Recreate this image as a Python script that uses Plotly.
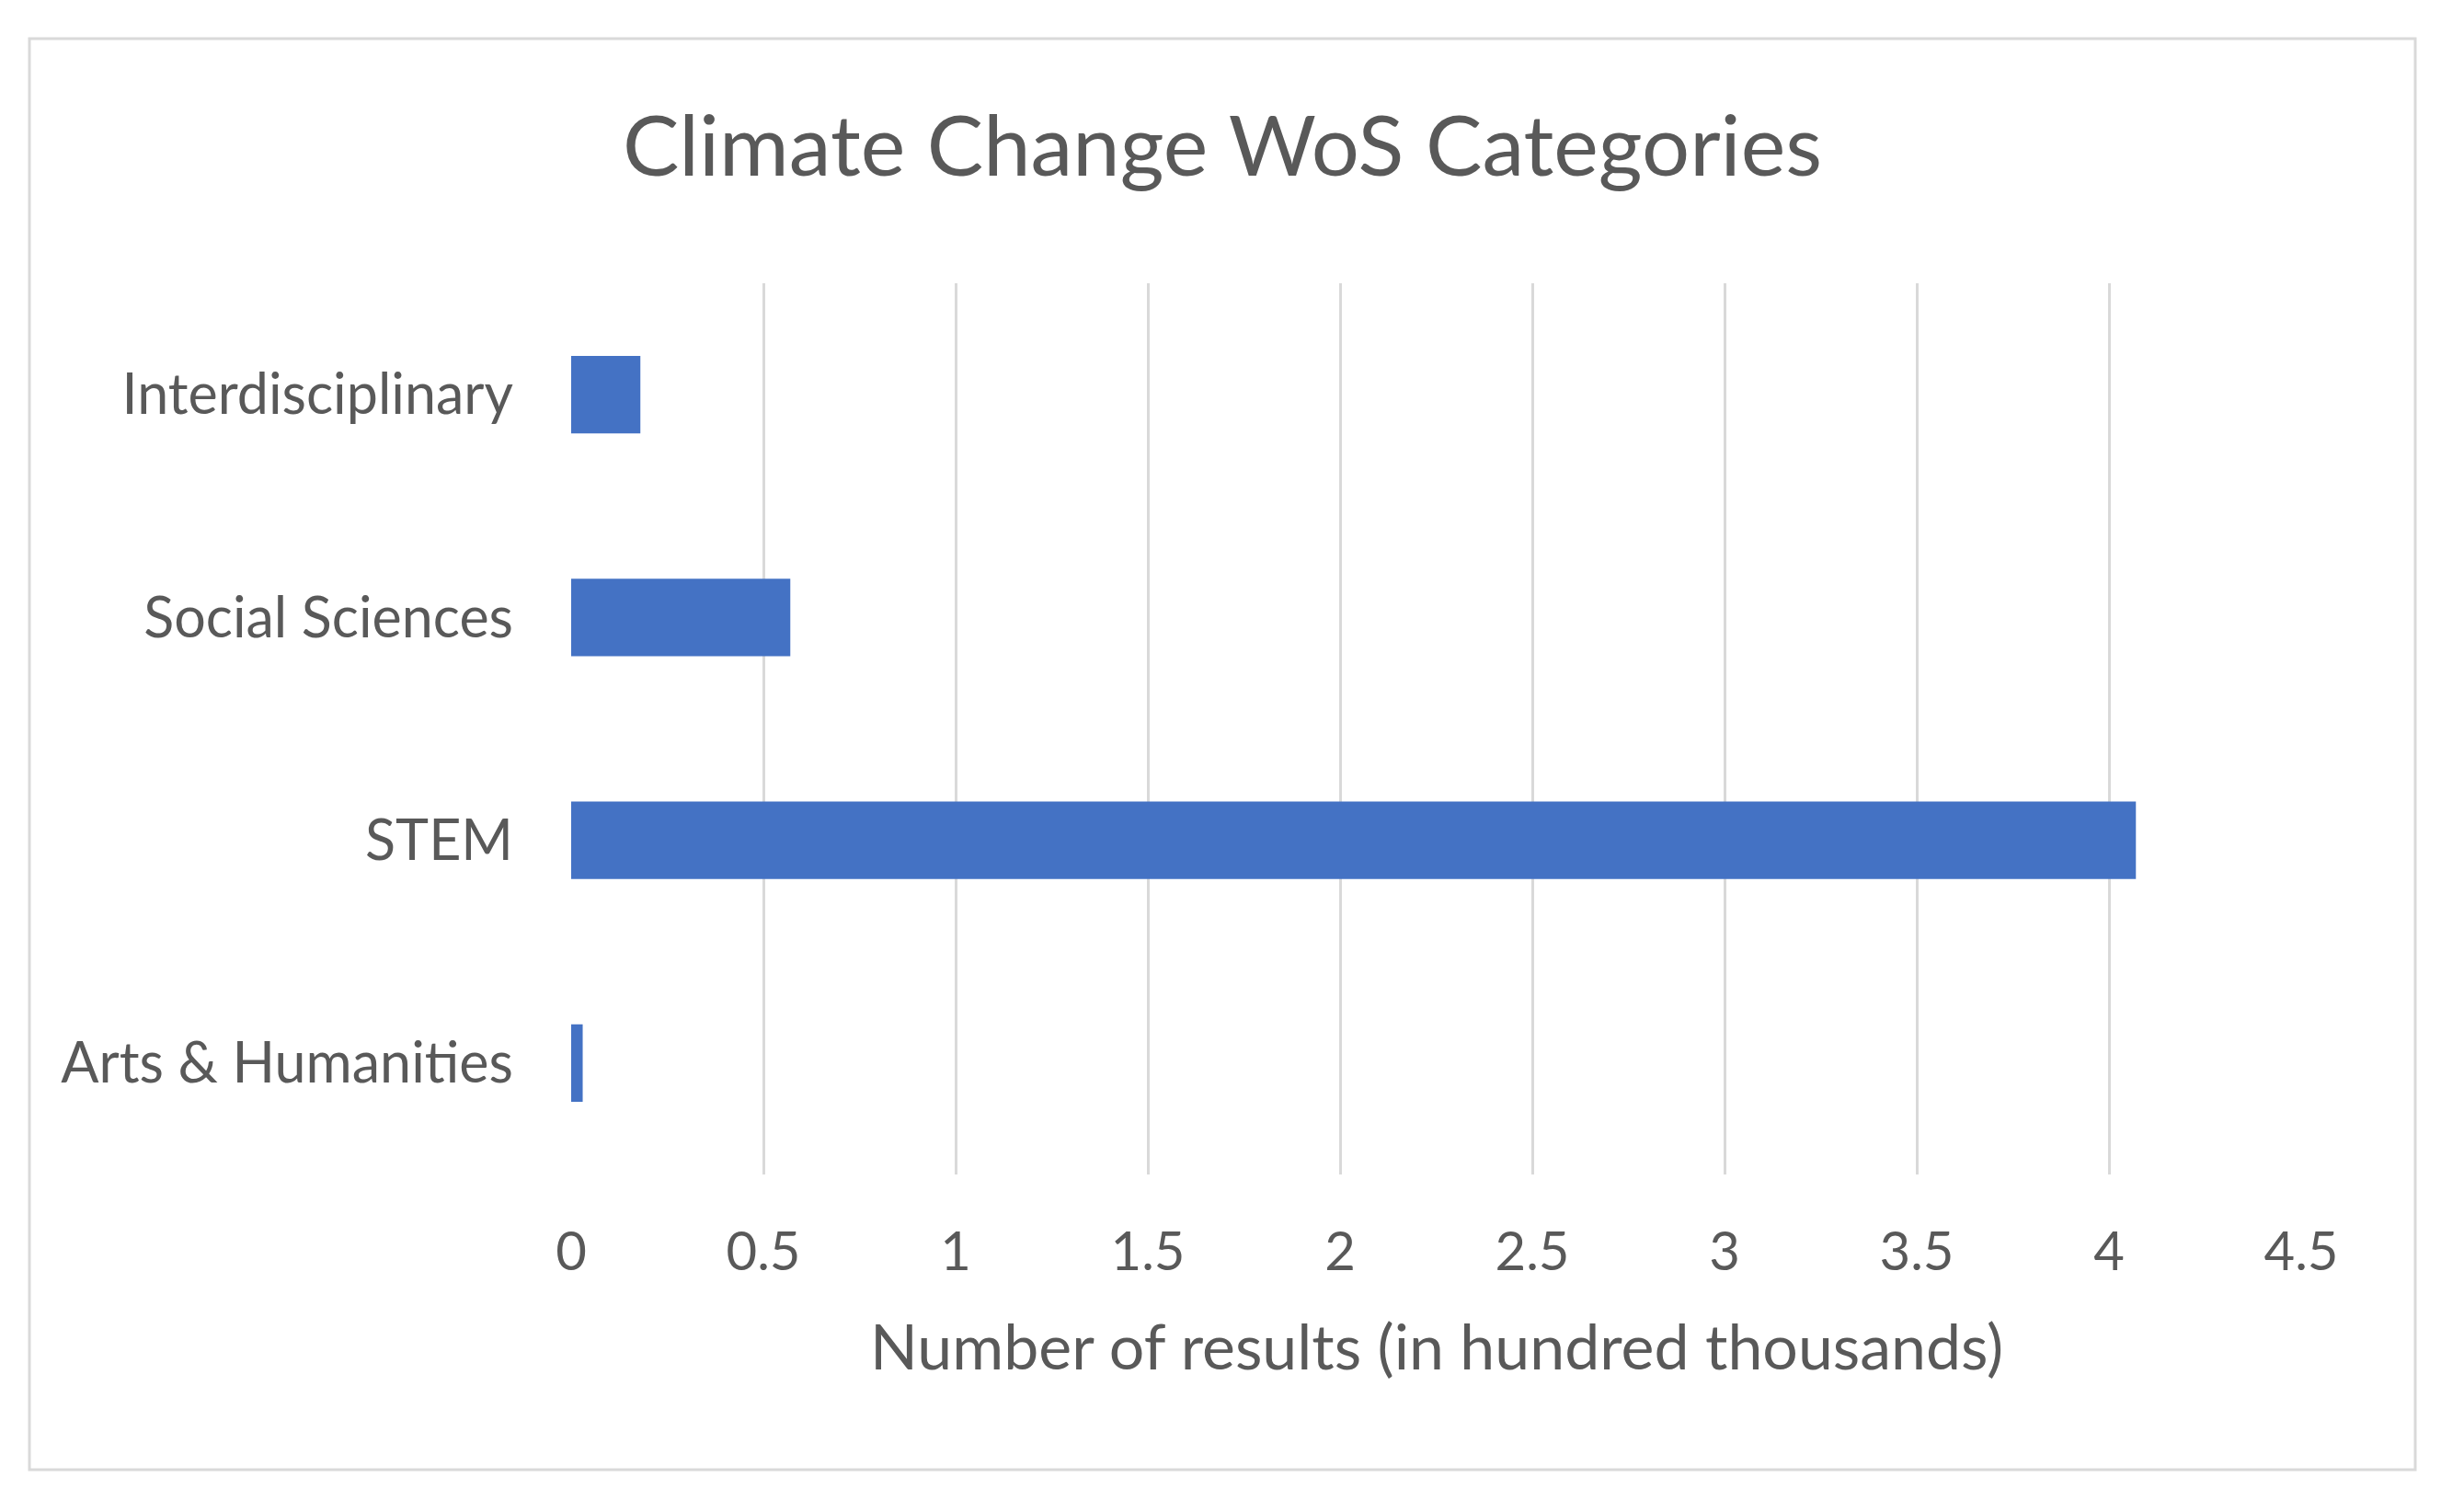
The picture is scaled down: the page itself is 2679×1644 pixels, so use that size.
import plotly.graph_objects as go

categories = ["Interdisciplinary", "Social Sciences", "STEM", "Arts & Humanities"]
values = [0.18, 0.57, 4.07, 0.03]
x_ticks = [0, 0.5, 1, 1.5, 2, 2.5, 3, 3.5, 4, 4.5]
x_tick_labels = ["0", "0.5", "1", "1.5", "2", "2.5", "3", "3.5", "4", "4.5"]
title_text = "Climate Change WoS Categories"
x_title = "Number of results (in hundred thousands)"

W, H = 2679, 1644
OFF = 8  # page body margin
L, R, T, B = 621 - OFF, 177 + OFF, 308 - OFF, 367 + OFF
pw, ph = W - L - R, H - T - B

FONT = "Lato"
GRAY = "#595959"

fig = go.Figure(go.Bar(
    y=categories, x=values, orientation="h",
    marker=dict(color="#4472C4", line=dict(width=0)),
))

fig.update_layout(
    width=W, height=H,
    margin=dict(l=L, r=R, t=T, b=B),
    paper_bgcolor="white", plot_bgcolor="white",
    bargap=0.653,
    showlegend=False,
    font=dict(family=FONT, color=GRAY),
    title=dict(text=title_text, x=(1329 - OFF) / W, xref="container", xanchor="center",
               y=1 - (159 - OFF) / H, yref="container", yanchor="middle",
               font=dict(family=FONT, size=92, color=GRAY)),
)

fig.update_xaxes(
    range=[0, 4.5], tickvals=x_ticks, ticktext=x_tick_labels,
    showgrid=True, gridcolor="#d9d9d9", gridwidth=2.5,
    zeroline=False, showline=False, ticks="",
    tickfont=dict(family=FONT, size=58, color=GRAY),
    ticklabelstandoff=45,
)
fig.update_yaxes(
    categoryorder="array", categoryarray=categories, autorange="reversed",
    showgrid=False, zeroline=False, showline=False, ticks="",
    tickfont=dict(family=FONT, size=61, color=GRAY),
    ticklabelstandoff=62,
)

fig.add_annotation(
    text=x_title, xref="paper", yref="paper",
    x=0.5, y=(T + ph - (1462 - OFF)) / ph, xanchor="center", yanchor="middle",
    showarrow=False, font=dict(family=FONT, size=68, color=GRAY),
)

# outer chart border
fig.add_shape(
    type="rect", xref="paper", yref="paper",
    x0=(32 - OFF - L) / pw, x1=(2626 - OFF - L) / pw,
    y0=(T + ph - (1598 - OFF)) / ph, y1=(T + ph - (42 - OFF)) / ph,
    line=dict(color="#d9d9d9", width=3), layer="below",
)

fig.write_html("out.html")
